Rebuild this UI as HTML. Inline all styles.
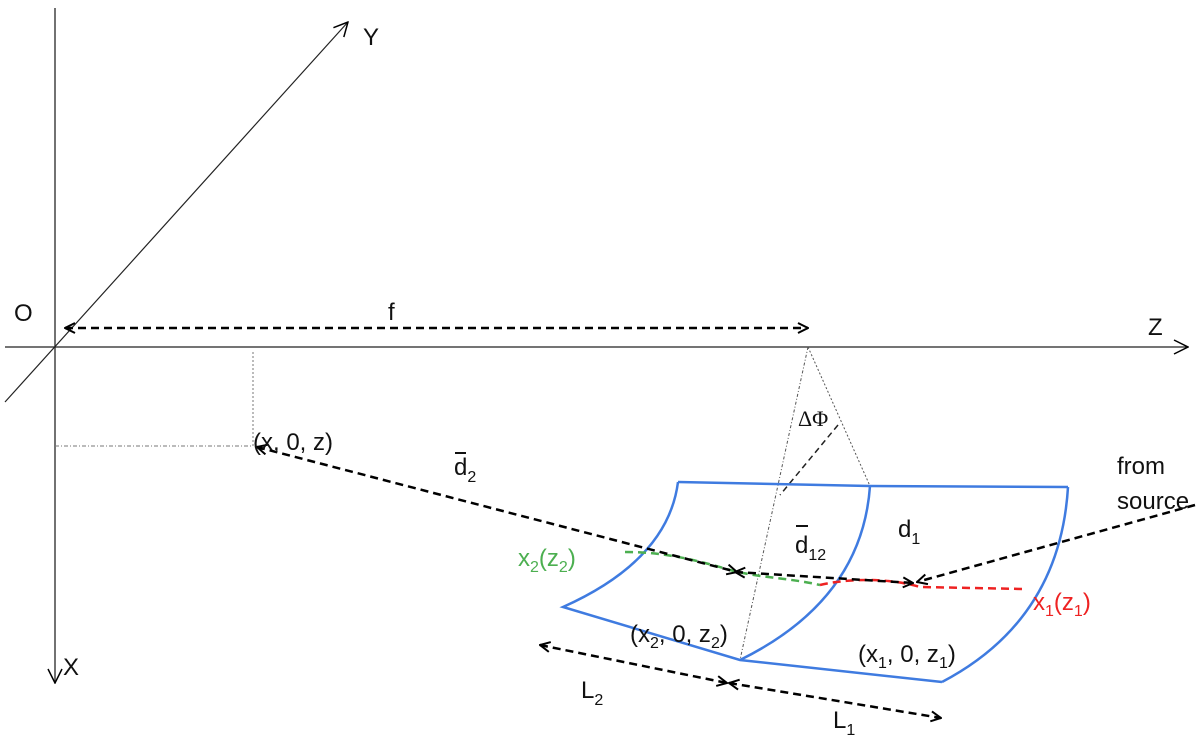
<!DOCTYPE html>
<html><head><meta charset="utf-8"><style>
html,body{margin:0;padding:0;background:#fff;}
svg{display:block;}
text{font-family:"Liberation Sans",sans-serif;font-size:24px;fill:#111;}
.s{font-size:16px;}
</style></head><body>
<svg width="1200" height="739" viewBox="0 0 1200 739" xmlns="http://www.w3.org/2000/svg">
<defs>
<marker id="a" viewBox="0 0 12 12" refX="11" refY="6" markerWidth="12" markerHeight="12" markerUnits="userSpaceOnUse" orient="auto-start-reverse">
<path d="M1,1 L11,6 L1,11" fill="none" stroke="#000" stroke-width="2"/></marker>
<marker id="b" viewBox="0 0 16 16" refX="15" refY="8" markerWidth="16" markerHeight="16" markerUnits="userSpaceOnUse" orient="auto-start-reverse">
<path d="M1,1 L15,8 L1,15" fill="none" stroke="#000" stroke-width="1.5"/></marker>
</defs>
<line x1="55" y1="8" x2="55" y2="683" stroke="#444" stroke-width="1.5" marker-end="url(#b)"/>
<line x1="5" y1="347" x2="1188" y2="347" stroke="#222" stroke-width="1.3" marker-end="url(#b)"/>
<line x1="5" y1="402" x2="348" y2="22" stroke="#222" stroke-width="1.2" marker-end="url(#b)"/>
<line x1="253" y1="352" x2="253" y2="447" stroke="#777" stroke-width="1" stroke-dasharray="2,2"/>
<line x1="55" y1="446" x2="253" y2="446" stroke="#777" stroke-width="1" stroke-dasharray="4,2,1,2"/>
<line x1="808" y1="347" x2="740" y2="660" stroke="#555" stroke-width="1" stroke-dasharray="3,2,1,2"/>
<line x1="808" y1="347" x2="870" y2="486" stroke="#555" stroke-width="1" stroke-dasharray="2,2"/>
<line x1="838" y1="425" x2="780" y2="495" stroke="#222" stroke-width="1.5" stroke-dasharray="6,4"/>
<g fill="none" stroke="#3f7be0" stroke-width="2.5">
<path d="M678,482 L870,486 L1068,487"/>
<path d="M678,482 Q668,560 563,607 L740,660 L942,682"/>
<path d="M870,486 Q862,600 740,660"/>
<path d="M1068,487 Q1060,620 942,682"/>
</g>
<path d="M625,552 C660,552 690,558 730,570 C760,578 790,578 820,585" fill="none" stroke="#4caf50" stroke-width="2.5" stroke-dasharray="8,5"/>
<path d="M820,585 C850,578 890,578 920,587 L1025,589" fill="none" stroke="#ee2222" stroke-width="2.5" stroke-dasharray="8,5"/>
<g fill="none" stroke="#000" stroke-width="2.5" stroke-dasharray="8,5">
<line x1="65" y1="328" x2="808" y2="328" marker-start="url(#a)" marker-end="url(#a)"/>
<line x1="257" y1="447" x2="737" y2="572" marker-start="url(#a)" marker-end="url(#a)"/>
<line x1="735" y1="572" x2="913" y2="583" marker-start="url(#a)" marker-end="url(#a)"/>
<line x1="1195" y1="505" x2="917" y2="582" marker-end="url(#a)"/>
<line x1="540" y1="645" x2="727" y2="683" marker-start="url(#a)" marker-end="url(#a)"/>
<line x1="729" y1="683" x2="941" y2="718" marker-start="url(#a)" marker-end="url(#a)"/>
</g>
<text x="14" y="321">O</text>
<text x="388" y="320">f</text>
<text x="1148" y="335">Z</text>
<text x="363" y="45">Y</text>
<text x="63" y="675">X</text>
<text x="253" y="450">(x, 0, z)</text>
<text x="454" y="475">d<tspan class="s" dy="7">2</tspan></text>
<line x1="455" y1="453" x2="466" y2="453" stroke="#111" stroke-width="2"/>
<text x="795" y="553" font-size="26">d<tspan class="s" dy="7">12</tspan></text>
<line x1="796" y1="526" x2="808" y2="526" stroke="#111" stroke-width="2"/>
<text x="898" y="537">d<tspan class="s" dy="7">1</tspan></text>
<text x="1117" y="474">from</text>
<text x="1117" y="509">source</text>
<text x="798" y="426" style="font-family:'Liberation Serif',serif;font-size:22px">ΔΦ</text>
<text x="518" y="566" style="fill:#4caf50">x<tspan class="s" dy="6" style="fill:#4caf50">2</tspan><tspan dy="-6" style="fill:#4caf50">(z</tspan><tspan class="s" dy="6" style="fill:#4caf50">2</tspan><tspan dy="-6" style="fill:#4caf50">)</tspan></text>
<text x="1033" y="610" style="fill:#ee2222">x<tspan class="s" dy="6" style="fill:#ee2222">1</tspan><tspan dy="-6" style="fill:#ee2222">(z</tspan><tspan class="s" dy="6" style="fill:#ee2222">1</tspan><tspan dy="-6" style="fill:#ee2222">)</tspan></text>
<text x="630" y="642">(x<tspan class="s" dy="6">2</tspan><tspan dy="-6">, 0, z</tspan><tspan class="s" dy="6">2</tspan><tspan dy="-6">)</tspan></text>
<text x="858" y="662">(x<tspan class="s" dy="6">1</tspan><tspan dy="-6">, 0, z</tspan><tspan class="s" dy="6">1</tspan><tspan dy="-6">)</tspan></text>
<text x="581" y="698">L<tspan class="s" dy="7">2</tspan></text>
<text x="833" y="728">L<tspan class="s" dy="7">1</tspan></text>
</svg>
</body></html>
